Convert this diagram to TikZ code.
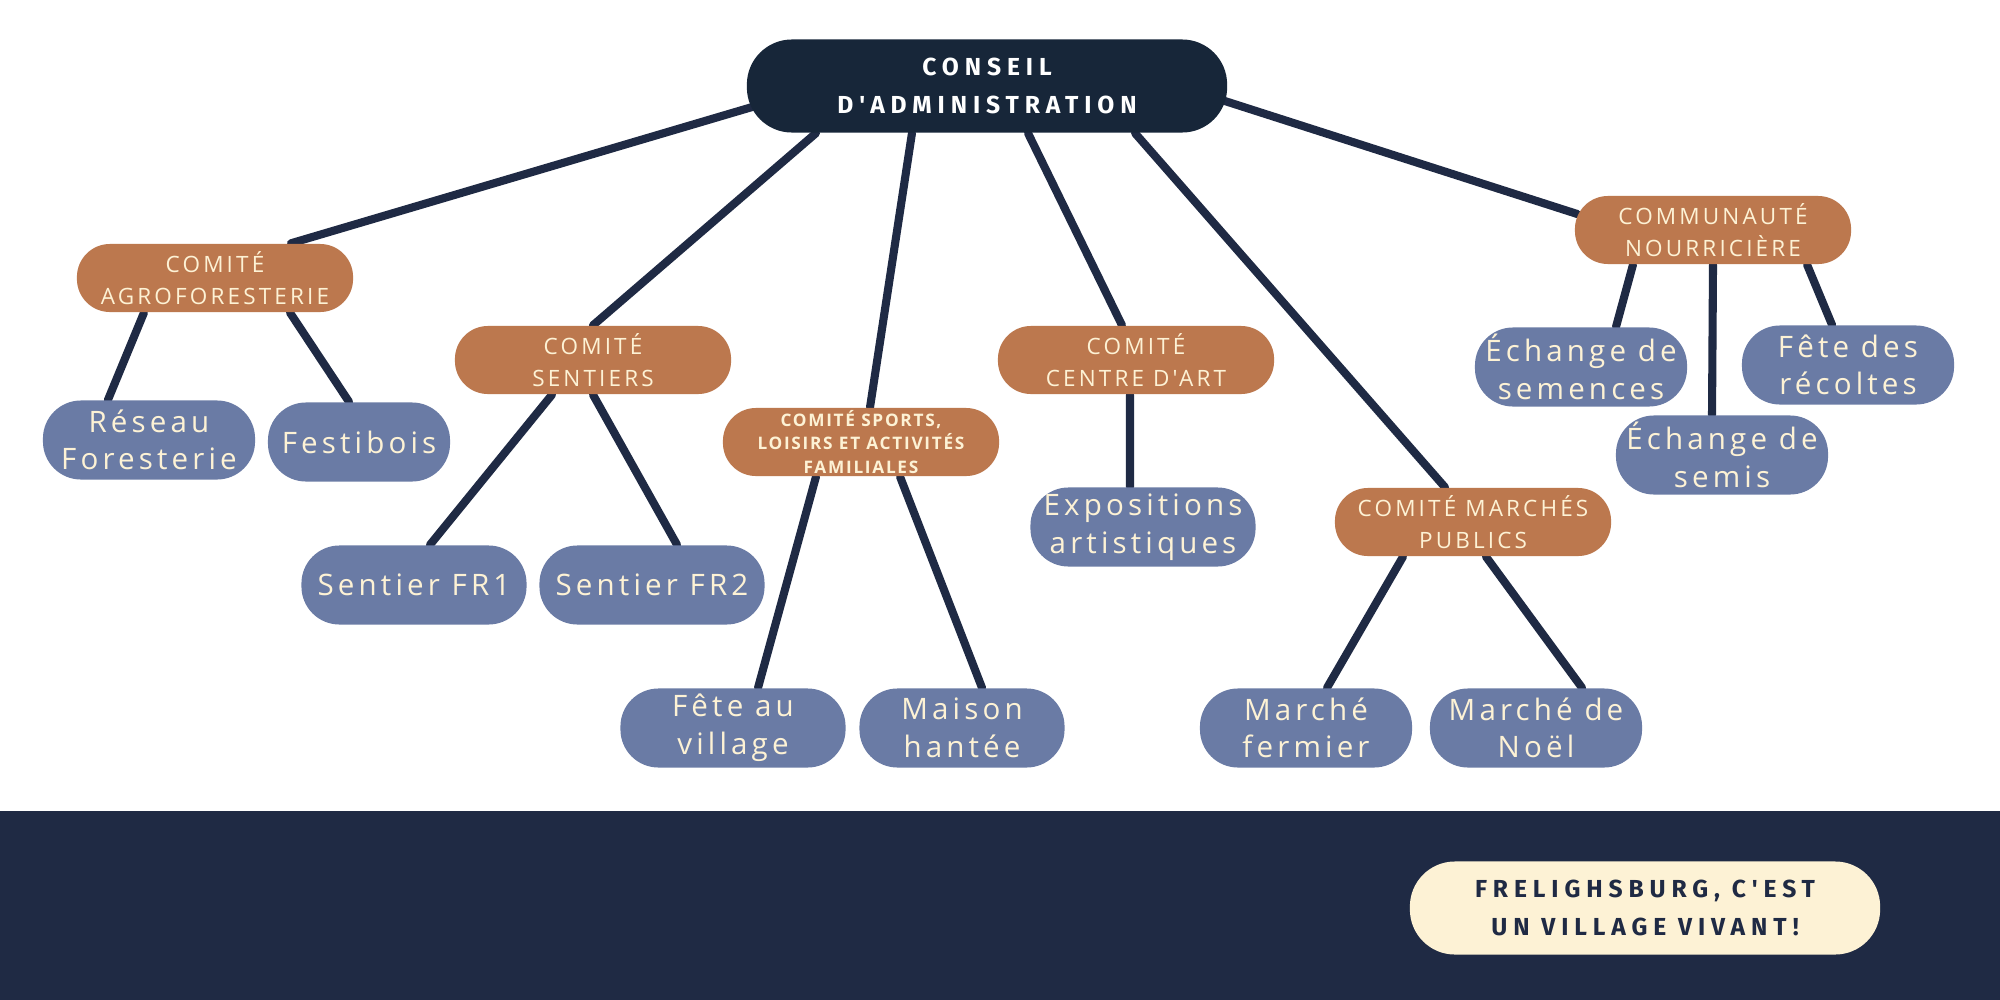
\documentclass[tikz,border=0pt]{standalone}
\usepackage{fontspec}
\setmainfont{Open Sans}
\newfontfamily\bodyfont[LetterSpace=14,Ligatures=TeXOff]{Open Sans}
\newfontfamily\sportsfont[LetterSpace=10,Ligatures=TeXOff]{Open Sans}
\newfontfamily\headfont[LetterSpace=24,Ligatures=TeXOff]{Fira Sans}
\usetikzlibrary{backgrounds}
\definecolor{navy}{HTML}{1F2A44}
\definecolor{darknavy}{HTML}{172639}
\definecolor{clay}{HTML}{BC784E}
\definecolor{slate}{HTML}{6A7BA5}
\definecolor{cream}{HTML}{FDF2D5}

\begin{document}
\begin{tikzpicture}[x=0.01cm, y=-0.01cm,
    board/.style={fill=darknavy, rounded corners=0.45cm, minimum width=4.8cm,
      minimum height=0.93cm, inner sep=0pt, align=center, text=white,
      font=\headfont\bfseries\fontsize{7}{10.9}\selectfont},
    committee/.style={fill=clay, rounded corners=0.33cm, minimum width=2.76cm,
      minimum height=0.68cm, inner sep=0pt, align=center, text=cream,
      font=\bodyfont\fontsize{6.4}{9.3}\selectfont},
    activity/.style={fill=slate, rounded corners=0.38cm, minimum width=2.12cm,
      minimum height=0.79cm, inner sep=0pt, align=center, text=cream,
      font=\bodyfont\fontsize{8.4}{10.7}\selectfont},
    slogan/.style={fill=cream, rounded corners=0.45cm, minimum width=4.7cm,
      minimum height=0.93cm, inner sep=0pt, align=center, text=navy,
      font=\headfont\bfseries\fontsize{7}{10.9}\selectfont},
    link/.style={draw=navy, line width=2.3pt, line cap=round}
  ]
    \useasboundingbox (0,0) rectangle (2000,1000);

    \node[board] (conseil) at (987,86) {CONSEIL\\D'ADMINISTRATION};

    \node[committee] (agro) at (215,278) {COMITÉ\\AGROFORESTERIE};
    \node[activity] (reseau) at (149,440) {Réseau\\Foresterie};
    \node[activity, minimum width=1.82cm] (festibois) at (359,442) {Festibois};

    \node[committee] (sentiers) at (593,360) {COMITÉ\\SENTIERS};
    \node[activity, minimum width=2.25cm] (fr1) at (414,585) {Sentier FR1};
    \node[activity, minimum width=2.25cm] (fr2) at (652,585) {Sentier FR2};

    \node[committee, font=\sportsfont\bfseries\fontsize{4.9}{6.6}\selectfont] (sports)
      at (861,442) {COMITÉ SPORTS,\\LOISIRS ET ACTIVITÉS\\FAMILIALES};
    \node[activity, minimum width=2.25cm] (village) at (733,728) {Fête au\\village};
    \node[activity, minimum width=2.05cm] (maison) at (962,728) {Maison\\hantée};

    \node[committee] (art) at (1136,360) {COMITÉ\\CENTRE D'ART};
    \node[activity, minimum width=2.25cm] (expo) at (1143,527) {Expositions\\artistiques};

    \node[committee] (marches) at (1473,522) {COMITÉ MARCHÉS\\PUBLICS};
    \node[activity] (fermier) at (1306,728) {Marché\\fermier};
    \node[activity] (noel) at (1536,728) {Marché de\\Noël};

    \node[committee] (communaute) at (1713,230) {COMMUNAUTÉ\\NOURRICIÈRE};
    \node[activity] (semences) at (1581,367) {Échange de\\semences};
    \node[activity] (recoltes) at (1848,365) {Fête des\\récoltes};
    \node[activity] (semis) at (1722,455) {Échange de\\semis};

    \node[slogan] (devise) at (1645,908) {FRELIGHSBURG, C'EST\\UN VILLAGE VIVANT!};

    \begin{scope}[on background layer]
      \fill[white] (0,0) rectangle (2000,1000);
      \fill[navy] (0,811) rectangle (2000,1000);

      \draw[link] ([xshift=0.06cm, yshift=-0.21cm]conseil.west) -- ([xshift=0.76cm]agro.north);
      \draw[link] ([xshift=-1.71cm]conseil.south) -- (sentiers.north);
      \draw[link] ([xshift=-0.75cm]conseil.south) -- ([xshift=0.09cm]sports.north);
      \draw[link] ([xshift=0.41cm]conseil.south) -- ([xshift=-0.14cm]art.north);
      \draw[link] ([xshift=1.48cm]conseil.south) -- ([xshift=-0.28cm]marches.north);
      \draw[link] ([xshift=-0.03cm, yshift=-0.15cm]conseil.east) -- ([xshift=0.03cm, yshift=0.16cm]communaute.west);

      \draw[link] ([xshift=-0.71cm]agro.south) -- ([xshift=-0.41cm]reseau.north);
      \draw[link] ([xshift=0.75cm]agro.south) -- ([xshift=-0.10cm]festibois.north);

      \draw[link] ([xshift=-0.41cm]sentiers.south) -- ([xshift=0.16cm]fr1.north);
      \draw[link] (sentiers.south) -- ([xshift=0.25cm]fr2.north);

      \draw[link] ([xshift=-0.45cm]sports.south) -- ([xshift=0.25cm]village.north);
      \draw[link] ([xshift=0.39cm]sports.south) -- ([xshift=0.20cm]maison.north);

      \draw[link] ([xshift=-0.06cm]art.south) -- ([xshift=-0.13cm]expo.north);

      \draw[link] ([xshift=-0.70cm]marches.south) -- ([xshift=0.21cm]fermier.north);
      \draw[link] ([xshift=0.13cm]marches.south) -- ([xshift=0.46cm]noel.north);

      \draw[link] ([xshift=-0.80cm]communaute.south) -- ([xshift=0.35cm]semences.north);
      \draw[link] (communaute.south) -- ([xshift=-0.10cm]semis.north);
      \draw[link] ([xshift=0.94cm]communaute.south) -- ([xshift=-0.16cm]recoltes.north);
    \end{scope}
  \end{tikzpicture}
\end{document}
